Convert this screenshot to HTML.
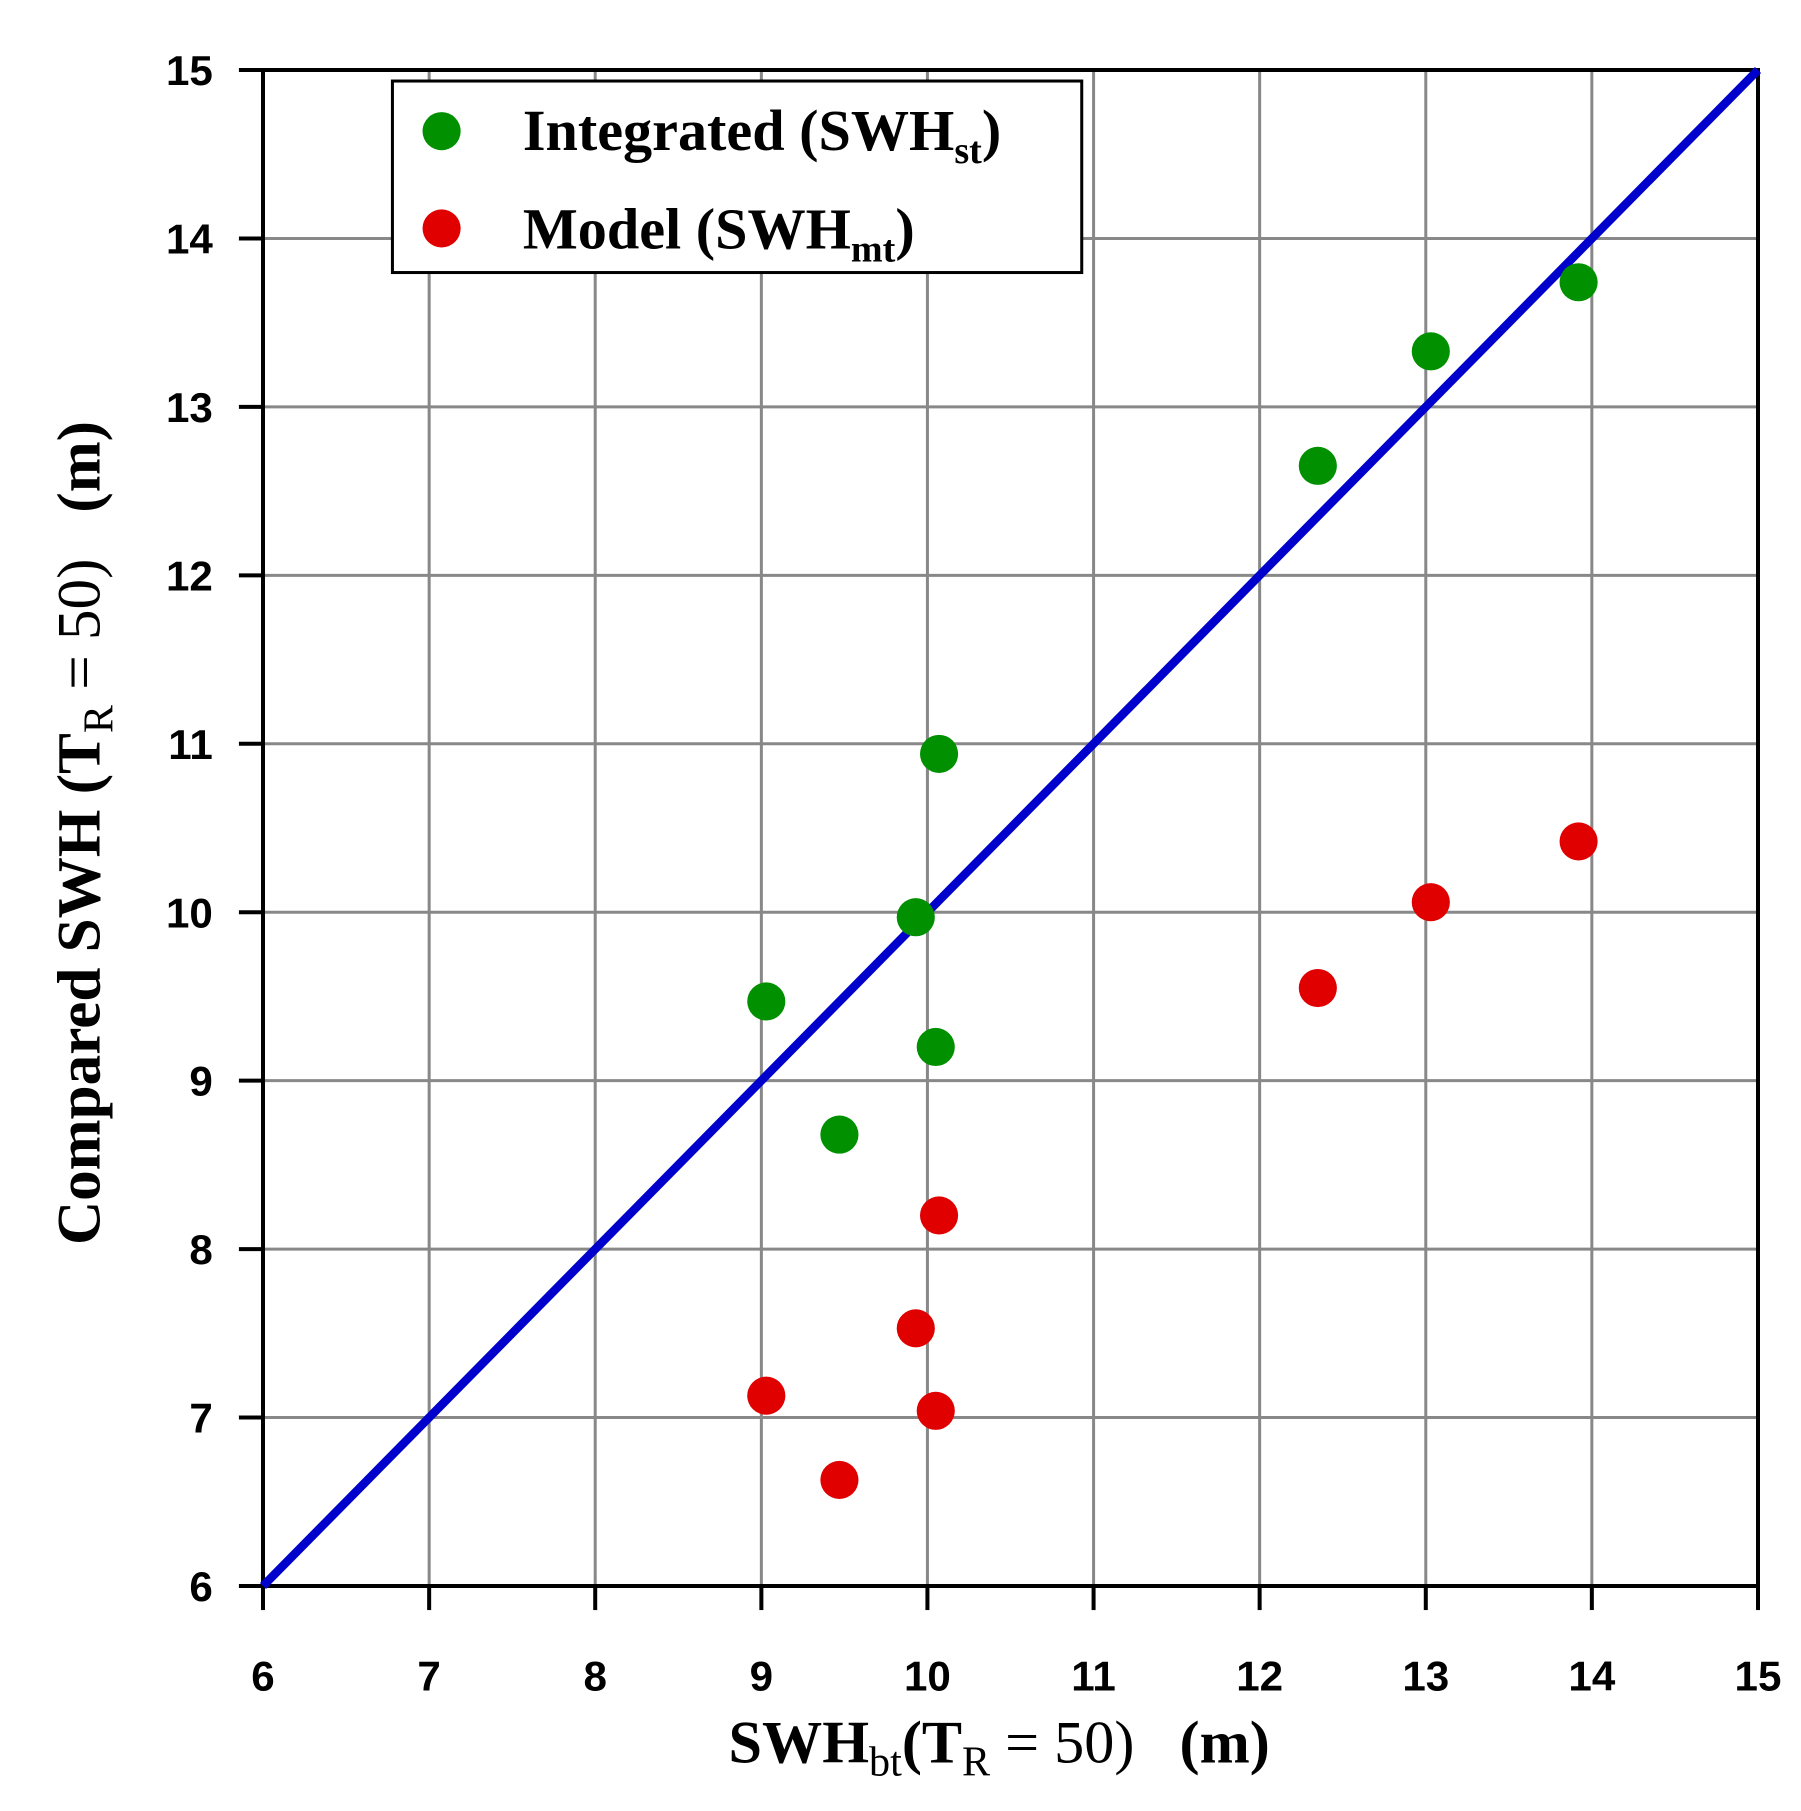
<!DOCTYPE html>
<html><head><meta charset="utf-8"><style>body{margin:0;background:#fff}</style></head>
<body>
<svg width="1801" height="1806" viewBox="0 0 1801 1806" xmlns="http://www.w3.org/2000/svg">
<rect width="1801" height="1806" fill="#fff"/>
<g transform="matrix(1.003356,0,0,1.002646,-0.883,-0.185)">
<g stroke="#888" stroke-width="3">
<line x1="428.6" y1="70" x2="428.6" y2="1582"/><line x1="594.1" y1="70" x2="594.1" y2="1582"/>
<line x1="759.7" y1="70" x2="759.7" y2="1582"/><line x1="925.2" y1="70" x2="925.2" y2="1582"/>
<line x1="1090.8" y1="70" x2="1090.8" y2="1582"/><line x1="1256.3" y1="70" x2="1256.3" y2="1582"/>
<line x1="1421.9" y1="70" x2="1421.9" y2="1582"/><line x1="1587.4" y1="70" x2="1587.4" y2="1582"/>
<line x1="263" y1="1414" x2="1753" y2="1414"/><line x1="263" y1="1246" x2="1753" y2="1246"/>
<line x1="263" y1="1078" x2="1753" y2="1078"/><line x1="263" y1="910" x2="1753" y2="910"/>
<line x1="263" y1="742" x2="1753" y2="742"/><line x1="263" y1="574" x2="1753" y2="574"/>
<line x1="263" y1="406" x2="1753" y2="406"/><line x1="263" y1="238" x2="1753" y2="238"/>
</g>
<rect x="263" y="70" width="1490" height="1512" fill="none" stroke="#000" stroke-width="4"/>
<g stroke="#000" stroke-width="4">
<line x1="263" y1="1582" x2="263" y2="1606"/><line x1="428.6" y1="1582" x2="428.6" y2="1606"/>
<line x1="594.1" y1="1582" x2="594.1" y2="1606"/><line x1="759.7" y1="1582" x2="759.7" y2="1606"/>
<line x1="925.2" y1="1582" x2="925.2" y2="1606"/><line x1="1090.8" y1="1582" x2="1090.8" y2="1606"/>
<line x1="1256.3" y1="1582" x2="1256.3" y2="1606"/><line x1="1421.9" y1="1582" x2="1421.9" y2="1606"/>
<line x1="1587.4" y1="1582" x2="1587.4" y2="1606"/><line x1="1753" y1="1582" x2="1753" y2="1606"/>
<line x1="239" y1="1582" x2="263" y2="1582"/><line x1="239" y1="1414" x2="263" y2="1414"/>
<line x1="239" y1="1246" x2="263" y2="1246"/><line x1="239" y1="1078" x2="263" y2="1078"/>
<line x1="239" y1="910" x2="263" y2="910"/><line x1="239" y1="742" x2="263" y2="742"/>
<line x1="239" y1="574" x2="263" y2="574"/><line x1="239" y1="406" x2="263" y2="406"/>
<line x1="239" y1="238" x2="263" y2="238"/><line x1="239" y1="70" x2="263" y2="70"/>
</g>
<g font-family="Liberation Sans, sans-serif" font-weight="bold" font-size="42" text-anchor="middle">
<text x="263" y="1686">6</text><text x="428.6" y="1686">7</text><text x="594.1" y="1686">8</text>
<text x="759.7" y="1686">9</text><text x="925.2" y="1686">10</text><text x="1090.8" y="1686">11</text>
<text x="1256.3" y="1686">12</text><text x="1421.9" y="1686">13</text><text x="1587.4" y="1686">14</text>
<text x="1753" y="1686">15</text>
</g>
<g font-family="Liberation Sans, sans-serif" font-weight="bold" font-size="42" text-anchor="end">
<text x="213" y="1597">6</text><text x="213" y="1429">7</text><text x="213" y="1261">8</text>
<text x="213" y="1093">9</text><text x="213" y="925">10</text><text x="213" y="757">11</text>
<text x="213" y="589">12</text><text x="213" y="421">13</text><text x="213" y="253">14</text>
<text x="213" y="85">15</text>
</g>
<line x1="263" y1="1582" x2="1753" y2="70" stroke="#0000cc" stroke-width="8.5"/>
<g fill="#009000">
<circle cx="764.6" cy="999" r="19"/><circle cx="837.5" cy="1131.8" r="19"/><circle cx="913.6" cy="915" r="19"/>
<circle cx="933.5" cy="1044.4" r="19"/><circle cx="936.8" cy="752.1" r="19"/><circle cx="1314.3" cy="464.8" r="19"/>
<circle cx="1426.9" cy="350.6" r="19"/><circle cx="1574.2" cy="281.7" r="19"/>
</g>
<g fill="#e00000">
<circle cx="764.6" cy="1392.2" r="19"/><circle cx="837.5" cy="1476.2" r="19"/><circle cx="913.6" cy="1325" r="19"/>
<circle cx="933.5" cy="1407.3" r="19"/><circle cx="936.8" cy="1212.4" r="19"/><circle cx="1314.3" cy="985.6" r="19"/>
<circle cx="1426.9" cy="900" r="19"/><circle cx="1574.2" cy="839.4" r="19"/>
</g>
<rect x="392" y="81" width="687" height="191" fill="#fff" stroke="#000" stroke-width="3"/>
<circle cx="441" cy="131" r="19" fill="#009000"/><circle cx="441" cy="228" r="19" fill="#e00000"/>
<text x="522" y="150" font-family="Liberation Serif, serif" font-weight="bold" font-size="58">Integrated (SWH<tspan font-size="38" dy="13">st</tspan><tspan dy="-13">)</tspan></text>
<text x="522" y="248" font-family="Liberation Serif, serif" font-weight="bold" font-size="58">Model (SWH<tspan font-size="38" dy="13">mt</tspan><tspan dy="-13">)</tspan></text>
<text x="727" y="1758" font-family="Liberation Serif, serif" font-weight="bold" font-size="60" xml:space="preserve">SWH<tspan font-size="42" dy="13" font-weight="normal">bt</tspan><tspan dy="-13">(T</tspan><tspan font-size="42" dy="13" font-weight="normal">R</tspan><tspan dy="-13" font-weight="normal"> = 50)</tspan>   (m)</text>
<text transform="translate(100,831) rotate(-90)" font-family="Liberation Serif, serif" font-weight="bold" font-size="61" text-anchor="middle" xml:space="preserve">Compared SWH (T<tspan font-size="42" dy="13" font-weight="normal">R</tspan><tspan dy="-13" font-weight="normal"> = 50)</tspan>   (m)</text>
</g>
</svg>
</body></html>
